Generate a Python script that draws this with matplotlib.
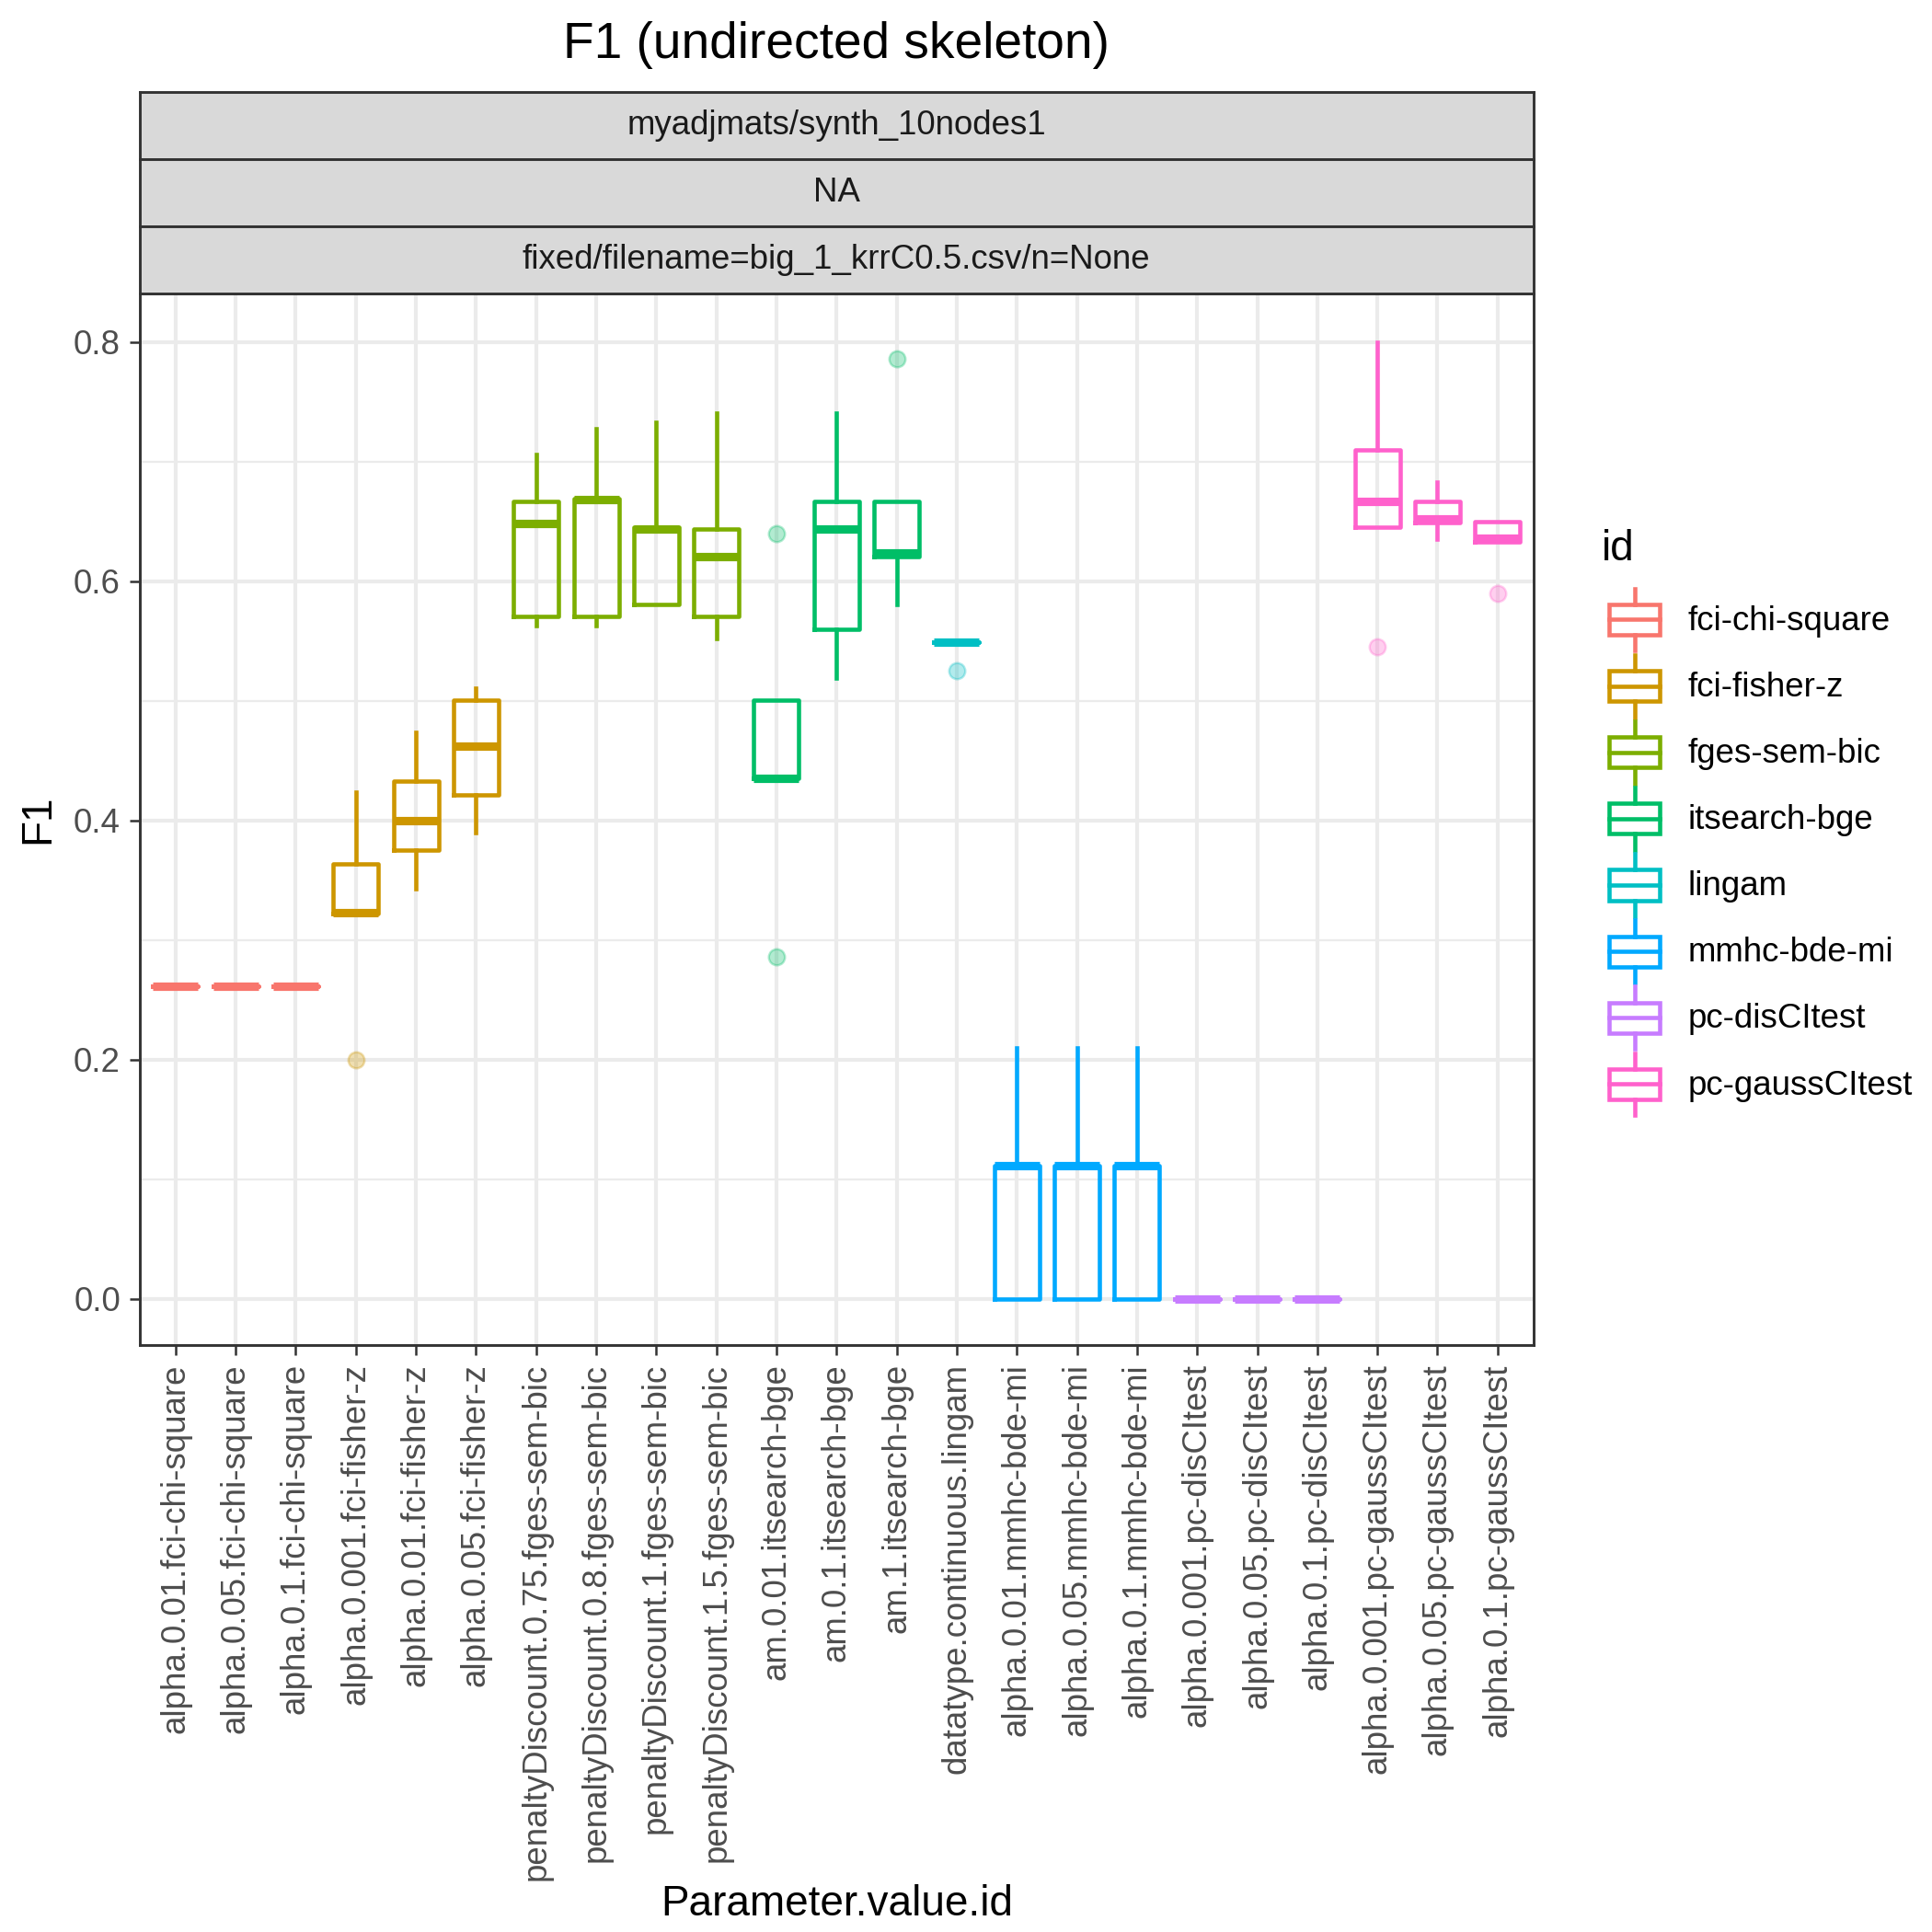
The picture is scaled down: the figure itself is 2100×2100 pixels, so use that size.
import matplotlib
matplotlib.use('Agg')
import matplotlib.pyplot as plt
from matplotlib.lines import Line2D
from matplotlib.patches import Rectangle
from matplotlib.legend_handler import HandlerBase

plt.rcParams['font.family'] = ['Liberation Sans', 'DejaVu Sans']

labels = ['alpha.0.01.fci-chi-square', 'alpha.0.05.fci-chi-square', 'alpha.0.1.fci-chi-square',
          'alpha.0.001.fci-fisher-z', 'alpha.0.01.fci-fisher-z', 'alpha.0.05.fci-fisher-z',
          'penaltyDiscount.0.75.fges-sem-bic', 'penaltyDiscount.0.8.fges-sem-bic',
          'penaltyDiscount.1.fges-sem-bic', 'penaltyDiscount.1.5.fges-sem-bic',
          'am.0.01.itsearch-bge', 'am.0.1.itsearch-bge', 'am.1.itsearch-bge',
          'datatype.continuous.lingam',
          'alpha.0.01.mmhc-bde-mi', 'alpha.0.05.mmhc-bde-mi', 'alpha.0.1.mmhc-bde-mi',
          'alpha.0.001.pc-disCItest', 'alpha.0.05.pc-disCItest', 'alpha.0.1.pc-disCItest',
          'alpha.0.001.pc-gaussCItest', 'alpha.0.05.pc-gaussCItest', 'alpha.0.1.pc-gaussCItest']
ids = ['fci-chi-square'] * 3 + ['fci-fisher-z'] * 3 + ['fges-sem-bic'] * 4 + \
      ['itsearch-bge'] * 3 + ['lingam'] + ['mmhc-bde-mi'] * 3 + ['pc-disCItest'] * 3 + \
      ['pc-gaussCItest'] * 3

id_names = ['fci-chi-square', 'fci-fisher-z', 'fges-sem-bic', 'itsearch-bge',
            'lingam', 'mmhc-bde-mi', 'pc-disCItest', 'pc-gaussCItest']
id_colors = ['#F8766D', '#CD9600', '#7CAE00', '#00BE67',
             '#00BFC4', '#00A9FF', '#C77CFF', '#FF61CC']

# box stats
whislo = [0.261, 0.261, 0.261, 0.322, 0.343, 0.390, 0.563, 0.563, 0.581, 0.552,
          0.435, 0.519, 0.581, 0.549, 0.0, 0.0, 0.0, 0.0, 0.0, 0.0, 0.645, 0.635, 0.633]
q1 = [0.261, 0.261, 0.261, 0.322, 0.375, 0.421, 0.571, 0.571, 0.581, 0.571,
      0.435, 0.560, 0.621, 0.549, 0.0, 0.0, 0.0, 0.0, 0.0, 0.0, 0.645, 0.649, 0.633]
med = [0.261, 0.261, 0.261, 0.323, 0.400, 0.462, 0.648, 0.668, 0.644, 0.621,
       0.435, 0.644, 0.624, 0.549, 0.111, 0.111, 0.111, 0.0, 0.0, 0.0, 0.667, 0.652, 0.636]
q3 = [0.261, 0.261, 0.261, 0.364, 0.433, 0.501, 0.667, 0.669, 0.645, 0.644,
      0.501, 0.667, 0.667, 0.549, 0.111, 0.111, 0.111, 0.0, 0.0, 0.0, 0.710, 0.667, 0.650]
whishi = [0.261, 0.261, 0.261, 0.424, 0.474, 0.511, 0.706, 0.728, 0.733, 0.741,
          0.501, 0.741, 0.667, 0.549, 0.210, 0.210, 0.210, 0.0, 0.0, 0.0, 0.800, 0.683, 0.650]
outliers = [[], [], [], [0.200], [], [], [], [], [], [],
            [0.640, 0.286], [], [0.786], [0.525], [], [], [], [], [], [],
            [0.545], [], [0.590]]

strips = ['myadjmats/synth_10nodes1', 'NA', 'fixed/filename=big_1_krrC0.5.csv/n=None']

grey30 = '#4D4D4D'
grey20 = '#333333'

fig = plt.figure(figsize=(7, 7), dpi=300)
L, B, W, H = 0.0722, 0.304, 0.7216, 0.544
ax = fig.add_axes([L, B, W, H])

pos = list(range(1, len(labels) + 1))
for i in range(len(labels)):
    c = id_colors[id_names.index(ids[i])]
    st = [dict(med=med[i], q1=q1[i], q3=q3[i], whislo=whislo[i], whishi=whishi[i],
               fliers=outliers[i])]
    ax.bxp(st, positions=[pos[i]], widths=0.75, showcaps=False, patch_artist=False,
           boxprops=dict(color=c, lw=1.1),
           whiskerprops=dict(color=c, lw=1.1),
           medianprops=dict(color=c, lw=2.2, solid_capstyle='butt'),
           flierprops=dict(marker='o', markersize=4.2, markerfacecolor=c,
                           markeredgecolor=c, alpha=0.3, markeredgewidth=0.6),
           zorder=3)

ax.set_xlim(0.4, len(labels) + 0.6)
ax.set_ylim(-0.0385, 0.8406)
ax.set_xticks(pos)
ax.set_xticklabels(labels, rotation=90, fontsize=8.8, color=grey30)
ax.set_yticks([0.0, 0.2, 0.4, 0.6, 0.8])
ax.set_yticklabels(['0.0', '0.2', '0.4', '0.6', '0.8'], fontsize=8.8, color=grey30)
ax.set_yticks([0.1, 0.3, 0.5, 0.7], minor=True)
ax.tick_params(axis='both', which='major', length=2.75, width=0.6, color=grey20, pad=2.2)
ax.tick_params(axis='y', which='minor', length=0)
ax.grid(True, which='major', color='#EBEBEB', lw=1.0, zorder=0)
ax.grid(True, which='minor', axis='y', color='#EBEBEB', lw=0.55, zorder=0)
ax.set_axisbelow(True)
for s in ax.spines.values():
    s.set_color(grey20)
    s.set_linewidth(0.7)
ax.set_xlabel('Parameter.value.id', fontsize=11)
ax.xaxis.set_label_coords(0.5, (0.0142 - B) / H)
ax.xaxis.label.set_verticalalignment('center')
ax.set_ylabel('F1', fontsize=11, labelpad=4)

# facet strips
sh = 0.0348
for k, txt in enumerate(strips):
    sax = fig.add_axes([L, B + H + (2 - k) * sh, W, sh])
    sax.set_xticks([])
    sax.set_yticks([])
    sax.set_facecolor('#D9D9D9')
    for s in sax.spines.values():
        s.set_color(grey20)
        s.set_linewidth(0.7)
    sax.text(0.5, 0.5, txt, ha='center', va='center', fontsize=8.8, color='#1A1A1A',
             transform=sax.transAxes)

fig.text(L + W / 2, 0.9765, 'F1 (undirected skeleton)', ha='center', va='center', fontsize=13.2)


class BoxKey(HandlerBase):
    def create_artists(self, legend, orig_handle, xdescent, ydescent, width, height,
                       fontsize, trans):
        c = orig_handle.get_color()
        x0 = -xdescent + width * 0.12
        w = width * 0.76
        y0 = -ydescent
        cx = x0 + w / 2
        bl, bt = y0 + height * 0.27, y0 + height * 0.73
        rect = Rectangle((x0, bl), w, bt - bl, fill=False, edgecolor=c, lw=1.1, transform=trans)
        mid = Line2D([x0, x0 + w], [(bl + bt) / 2] * 2, color=c, lw=1.1, transform=trans)
        w1 = Line2D([cx, cx], [bt, y0 + height * 0.97], color=c, lw=1.1, transform=trans)
        w2 = Line2D([cx, cx], [y0 + height * 0.03, bl], color=c, lw=1.1, transform=trans)
        return [rect, mid, w1, w2]


handles = [Line2D([], [], color=c) for c in id_colors]
leg = fig.legend(handles, id_names, loc='center left', bbox_to_anchor=(0.822, 0.574),
                 bbox_transform=fig.transFigure, frameon=False, fontsize=8.8,
                 title='id', title_fontsize=11, alignment='left',
                 handler_map={Line2D: BoxKey()}, handlelength=1.96, handleheight=2.65,
                 labelspacing=0.0, handletextpad=0.6, borderaxespad=0)
leg._legend_box.sep = 4.5

fig.savefig('out.png', dpi=300)
